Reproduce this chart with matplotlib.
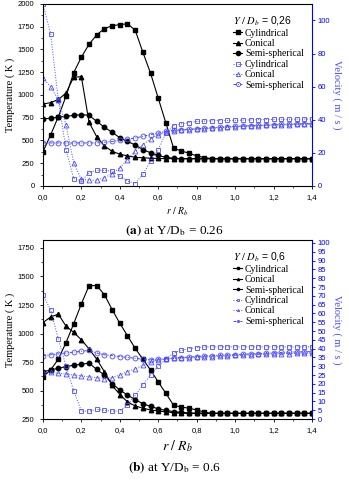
import matplotlib
matplotlib.use("Agg")
import matplotlib.pyplot as plt
from matplotlib.lines import Line2D
from matplotlib.ticker import MultipleLocator

plt.rcParams['font.family'] = 'Liberation Sans'
plt.rcParams['mathtext.fontset'] = 'stix'

### DATA ###

r = [0.00, 0.04, 0.08, 0.12, 0.16, 0.20, 0.24, 0.28, 0.32, 0.36, 0.40, 0.44,
     0.48, 0.52, 0.56, 0.60, 0.64, 0.68, 0.72, 0.76, 0.80, 0.84, 0.88, 0.92,
     0.96, 1.00, 1.04, 1.08, 1.12, 1.16, 1.20, 1.24, 1.28, 1.32, 1.36, 1.40]

# (a) Y/Db = 0.26 - temperature (K)
t_cyl_a = [375, 560, 760, 985, 1245, 1414, 1557, 1659, 1729, 1758, 1773, 1780,
           1711, 1469, 1238, 964, 690, 415, 385, 360, 330, 312] + [300] * 14
t_con_a = [900, 915, 950, 1020, 1195, 1200, 700, 540, 440, 380, 350, 330,
           315, 310, 305, 302] + [300] * 20
t_semi_a = [735, 745, 755, 765, 775, 785, 775, 710, 645, 590, 530, 490,
            450, 400, 365, 335, 315, 305] + [300] * 18

# (a) velocity (m/s)
v_cyl_a = [110, 92, 52, 22, 4.5, 3, 8, 9.5, 9.5, 9, 6, 3,
           1.5, 7, 15, 22, 32, 36.5, 37.5, 38.3, 39, 39.2, 39.4, 39.5,
           39.6, 39.7, 39.8, 39.9, 40, 40.1, 40.2, 40.3, 40.3, 40.4, 40.4, 40.5]
v_con_a = [65, 60, 52, 37, 14, 4, 3.5, 3.5, 5, 7.5, 11, 16,
           21, 25, 28.5, 31, 32.5, 33.2, 33.7, 34, 34.3, 34.6, 34.9, 35.2,
           35.5, 35.8, 36, 36.2, 36.4, 36.6, 36.8, 37, 37.1, 37.2, 37.3, 37.4]
v_semi_a = [26, 26, 26, 26, 26, 26, 26, 26, 26.4, 26.9, 27.5, 28.2,
            29, 30, 31, 32, 33, 33.6, 34, 34.3, 34.6, 34.9, 35.2, 35.5,
            35.8, 36, 36.2, 36.4, 36.6, 36.8, 37, 37.2, 37.4, 37.5, 37.6, 37.7]

# (b) Y/Db = 0.6 - temperature (K)
t_cyl_b = [620, 680, 775, 920, 1085, 1260, 1420, 1420, 1340, 1210, 1090, 980,
           870, 775, 680, 575, 475, 370, 355, 345, 330, 310] + [300] * 14
t_con_b = [1095, 1145, 1170, 1065, 1010, 945, 865, 775, 665, 545, 465, 400,
           365, 345, 330, 320, 312, 306] + [300] * 18
t_semi_b = [665, 680, 695, 710, 722, 730, 740, 685, 635, 560, 505, 460,
            420, 385, 360, 340, 325, 315, 308, 304] + [300] * 16

# (b) velocity (m/s)
v_cyl_b = [70.5, 62, 45.5, 30, 16, 4.5, 4.5, 5.5, 5, 4.5, 4.5, 8,
           13.5, 19.5, 25, 30, 34, 37.5, 39, 40, 40.5] + [41] * 15
v_con_b = [26.5, 26.5, 26, 25.5, 25, 24.5, 24, 23.5, 23, 23.5, 25, 27,
           28.5, 30.5, 32.5, 33.5, 34, 34.5, 34.7, 34.9, 35.1, 35.3, 35.5, 35.7,
           35.9, 36.1, 36.3, 36.5, 36.7, 36.9, 37, 37.1, 37.2, 37.3, 37.4, 37.5]
v_semi_b = [36, 36.5, 37, 37.5, 38, 38.5, 39, 37.5, 36.5, 36, 35.5, 35,
            34.5, 34, 33.8, 34, 34.3, 34.6, 34.9, 35.2, 35.5, 35.8, 36, 36.2,
            36.4, 36.6, 36.8, 37, 37.2, 37.4, 37.6, 37.8, 38, 38.1, 38.2, 38.3]

labels = ["Cylindrical", "Conical", "Semi-spherical"]
xticks = [0.0, 0.2, 0.4, 0.6, 0.8, 1.0, 1.2, 1.4]

BLUE = '#4a4aff'
SERIF = 'Liberation Serif'


def draw_panel(ax, temps, vels, tlim, vlim, tstep, vstep, title, xlab_size,
               leg_ms):
    markers = ['s', '^', 'o']
    vstyles = [':', ':', (0, (3, 1.5, 1, 1.5))]
    for t, m in zip(temps, markers):
        ax.plot(r, t, color='black', lw=0.8, marker=m, ms=3.2)
    ax.set_xlim(0, 1.4)
    ax.set_ylim(*tlim)
    ax.set_xticks(xticks)
    ax.set_xticklabels([f"{x:.1f}".replace('.', ',') for x in xticks])
    ax.xaxis.set_minor_locator(MultipleLocator(0.1))
    ax.yaxis.set_major_locator(MultipleLocator(tstep))
    ax.yaxis.set_minor_locator(MultipleLocator(tstep / 2))
    ax.tick_params(labelsize=5.5, length=2.5, width=0.6, direction='out')
    ax.tick_params(which='minor', length=1.5, width=0.5)
    ax.set_ylabel("Temperature ( K )", family=SERIF, fontsize=7.5, labelpad=2)
    ax.set_xlabel(r"$r\ /\ R_b$", fontsize=xlab_size, labelpad=3)
    for s in ax.spines.values():
        s.set_linewidth(0.7)

    ax2 = ax.twinx()
    for v, m, ls in zip(vels, markers, vstyles):
        ax2.plot(r, v, color=BLUE, lw=0.7, ls=ls, marker=m, ms=3.5,
                 mfc='none', mec=BLUE, mew=0.6)
    ax2.set_ylim(*vlim)
    ax2.yaxis.set_major_locator(MultipleLocator(vstep))
    ax2.tick_params(labelsize=5.5, length=2.5, width=0.6, colors='blue',
                    direction='out', pad=1.5)
    ax2.spines['right'].set_color('blue')
    ax2.spines['right'].set_linewidth(0.8)
    ax2.set_ylabel("Velocity ( m / s )", family=SERIF, fontsize=7.5,
                   color=BLUE, rotation=270, labelpad=8)

    handles = [Line2D([], [], color='black', lw=0.8, marker=m, ms=leg_ms)
               for m in markers]
    handles += [Line2D([], [], color=BLUE, lw=0.7, ls=ls, marker=m, ms=leg_ms,
                       mfc='none', mec=BLUE, mew=0.6)
                for m, ls in zip(markers, vstyles)]
    leg = ax2.legend(handles, labels + labels, loc='upper right',
                     bbox_to_anchor=(0.985, 0.965), frameon=False,
                     prop={'family': SERIF, 'size': 7}, handlelength=0.9,
                     handletextpad=0.3, labelspacing=0.15, borderaxespad=0,
                     title=title, title_fontsize=7.5)
    leg._legend_box.align = 'left'
    return ax2


fig = plt.figure(figsize=(3.49, 4.80), dpi=100)

ax_a = fig.add_axes([0.123, 0.6125, 0.771, 0.3795])
draw_panel(ax_a, [t_cyl_a, t_con_a, t_semi_a], [v_cyl_a, v_con_a, v_semi_a],
           (0, 2000), (0, 110), 250, 20, r"$Y\ /\ D_b$ = 0,26", 7, 3)

ax_b = fig.add_axes([0.123, 0.127, 0.771, 0.373])
draw_panel(ax_b, [t_cyl_b, t_con_b, t_semi_b], [v_cyl_b, v_con_b, v_semi_b],
           (250, 1820), (0, 101.7), 250, 5, r"$Y\ /\ D_b$ = 0,6", 10, 1.6)

fig.text(0.5, 0.52, r"$\mathbf{(a)}$ at Y/D$_\mathrm{b}$ = 0.26", ha='center',
         va='center', family=SERIF, fontsize=9.5)
fig.text(0.5, 0.025, r"$\mathbf{(b)}$ at Y/D$_\mathrm{b}$ = 0.6", ha='center',
         va='center', family=SERIF, fontsize=9.5)

plt.savefig("out.png", dpi=100)
